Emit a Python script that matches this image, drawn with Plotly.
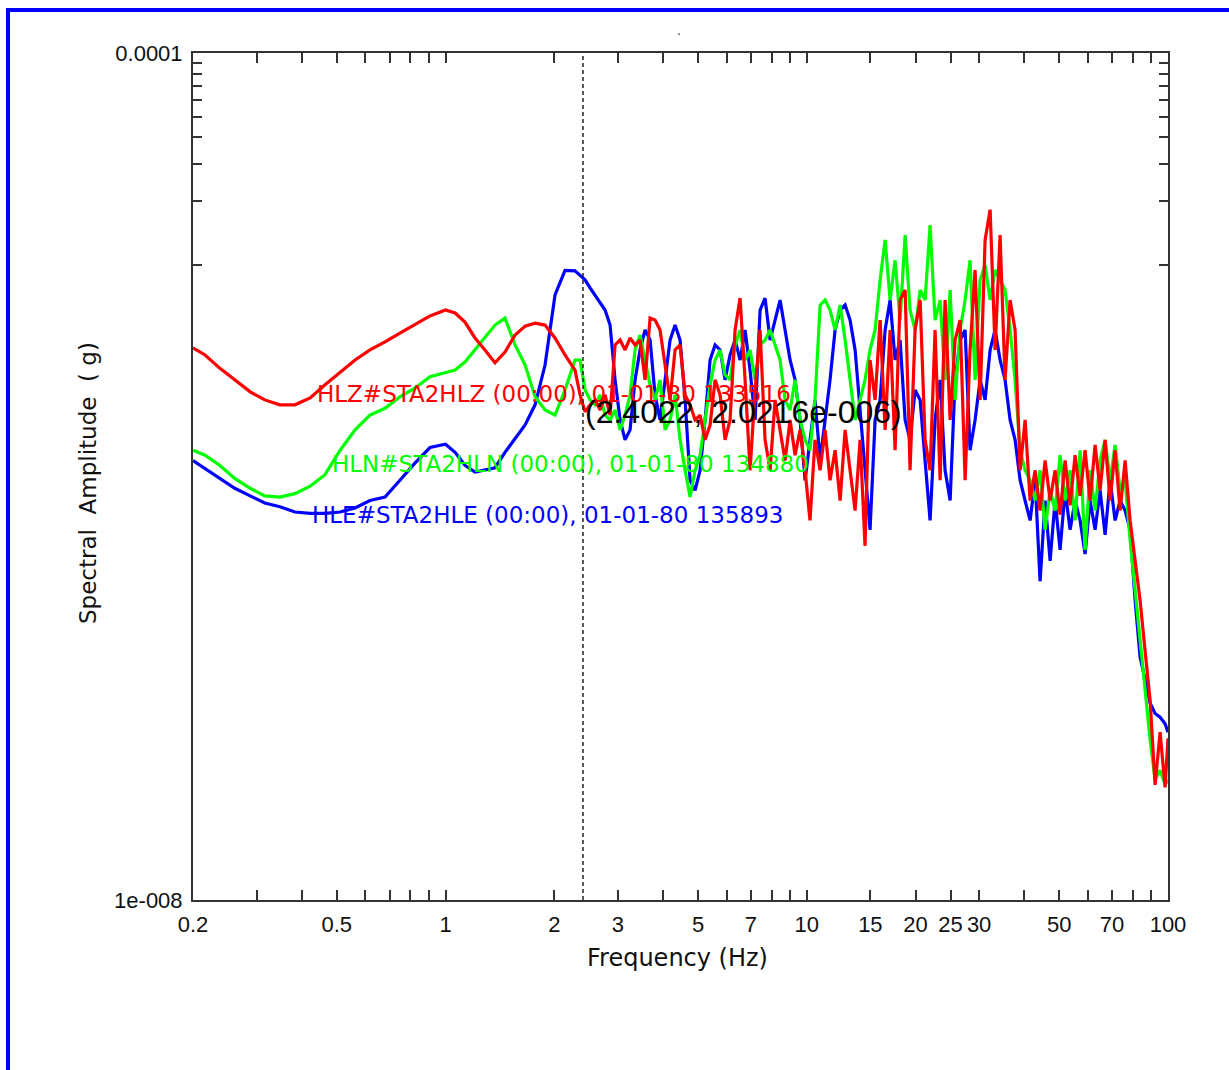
import math
import plotly.graph_objects as go

# Frequency grid (Hz)
freq_hz = [
    0.200, 0.216, 0.237, 0.261, 0.288, 0.316, 0.348, 0.383, 0.422, 0.464,
    0.511, 0.562, 0.618, 0.680, 0.748, 0.824, 0.906, 1.000, 1.063, 1.132,
    1.207, 1.286, 1.371, 1.461, 1.558, 1.661, 1.770, 1.886, 2.010, 2.142,
    2.283,
    2.358, 2.434, 2.513, 2.595, 2.679, 2.765, 2.855, 2.947, 3.043, 3.141,
    3.243, 3.348, 3.456, 3.568, 3.684, 3.803, 3.926, 4.053, 4.185, 4.320,
    4.460, 4.605, 4.754, 4.908, 5.067, 5.231, 5.400, 5.575, 5.756, 5.942,
    6.134, 6.333, 6.538, 6.750, 6.968, 7.194, 7.427, 7.667, 7.916, 8.172,
    8.437, 8.710, 8.992, 9.283, 9.583, 9.894, 10.21, 10.54, 10.89, 11.24,
    11.60, 11.98, 12.37, 12.77, 13.18, 13.61, 14.05, 14.50, 14.97, 15.46,
    15.96, 16.48, 17.01, 17.56, 18.13, 18.72, 19.32, 19.95, 20.60, 21.26,
    21.95, 22.66, 23.40, 24.15, 24.94, 25.74, 26.58, 27.44, 28.32, 29.24,
    30.19, 31.17, 32.18, 33.22, 34.29, 35.40, 36.55, 37.73, 38.96, 40.22,
    41.52, 42.87, 44.25, 45.69, 47.17, 48.69, 50.27, 51.90, 53.58, 55.31,
    57.11, 58.95, 60.86, 62.84, 64.87, 66.97, 69.14, 71.38, 73.69, 76.08,
    78.54, 81.08, 83.71, 86.42, 89.22, 92.11, 95.09, 98.17,
    100.0,
]

# Spectral amplitudes in micro-g
hle_ug = [
    1.19, 1.09, 0.98, 0.88, 0.81, 0.75, 0.72, 0.68, 0.67, 0.67,
    0.68, 0.71, 0.77, 0.80, 0.96, 1.16, 1.37, 1.42, 1.30, 1.13,
    1.05, 1.07, 1.10, 1.30, 1.52, 1.75, 2.18, 3.36, 7.20, 9.40,
    9.35,
    8.95, 8.48, 7.78, 7.20, 6.67, 6.11, 5.19, 2.86, 1.85, 1.49,
    1.66, 2.86, 3.96, 4.92, 4.41, 2.43, 1.85, 2.86, 4.41, 5.19,
    4.41, 2.30, 0.96, 0.86, 1.07, 1.85, 3.55, 4.18, 3.96, 2.86,
    3.75, 4.41, 3.55, 4.92, 3.18, 1.85, 6.11, 6.96, 4.41, 5.48,
    6.81, 4.92, 3.55, 2.86, 1.85, 0.96, 1.49, 2.30, 1.19, 1.85,
    2.86, 4.92, 6.11, 6.45, 5.48, 3.96, 2.06, 1.07, 0.56, 1.85,
    2.30, 4.92, 6.81, 3.55, 4.41, 1.85, 1.49, 2.56, 2.30, 1.19,
    0.62, 1.85, 2.86, 1.07, 0.77, 2.86, 4.41, 4.92, 1.33, 1.85,
    2.86, 2.30, 3.96, 4.92, 3.55, 2.86, 1.85, 1.49, 0.96, 0.77,
    0.62, 0.96, 0.32, 0.77, 0.40, 0.77, 0.45, 0.86, 0.56, 0.77,
    0.62, 0.43, 0.77, 0.56, 0.86, 0.53, 0.96, 0.62, 0.77, 0.69,
    0.56, 0.26, 0.14, 0.11, 0.085, 0.076, 0.073, 0.068,
    0.062,
]

hln_ug = [
    1.33, 1.26, 1.13, 0.98, 0.88, 0.81, 0.80, 0.83, 0.90, 1.02,
    1.33, 1.66, 1.95, 2.10, 2.38, 2.62, 2.96, 3.11, 3.18, 3.47,
    3.96, 4.51, 5.19, 5.60, 4.18, 3.36, 2.38, 2.06, 1.95, 2.56,
    3.55,
    3.55, 2.56, 2.30, 2.18, 2.43, 1.95, 1.85, 2.06, 1.66, 1.95,
    2.43, 3.96, 4.66, 3.55, 2.71, 2.30, 2.86, 1.66, 1.85, 2.43,
    1.49, 1.07, 0.80, 1.07, 1.26, 1.85, 2.71, 3.55, 3.96, 3.02,
    2.86, 4.18, 4.92, 3.55, 3.96, 2.86, 4.18, 4.41, 4.92, 4.18,
    3.55, 2.30, 2.06, 2.86, 1.85, 1.49, 1.33, 2.30, 6.45, 6.81,
    6.11, 4.92, 6.45, 4.41, 2.86, 1.85, 2.30, 2.86, 3.96, 4.92,
    8.48, 13.1, 6.81, 10.5, 5.48, 13.8, 6.11, 4.92, 7.60, 6.81,
    15.4, 5.48, 6.81, 2.86, 7.60, 2.30, 4.92, 6.81, 10.5, 2.86,
    8.48, 9.97, 6.81, 9.45, 8.48, 7.60, 4.92, 2.86, 1.33, 1.07,
    0.96, 0.77, 1.07, 0.56, 0.86, 0.69, 1.26, 0.77, 1.07, 0.62,
    1.33, 0.45, 1.07, 0.69, 1.19, 1.49, 0.96, 1.41, 0.86, 0.96,
    0.50, 0.29, 0.17, 0.098, 0.057, 0.037, 0.041, 0.035,
    0.037,
]

hlz_ug = [
    4.05, 3.75, 3.25, 2.86, 2.51, 2.30, 2.18, 2.18, 2.35, 2.71,
    3.11, 3.55, 3.96, 4.32, 4.76, 5.25, 5.73, 6.11, 5.92, 5.36,
    4.51, 3.96, 3.44, 3.87, 4.66, 5.13, 5.30, 5.19, 4.51, 3.75,
    3.18,
    2.43, 2.02, 2.18, 2.30, 2.06, 2.43, 1.95, 4.18, 4.41, 3.96,
    4.51, 4.18, 4.41, 2.86, 5.60, 5.48, 4.92, 3.36, 2.30, 3.96,
    4.18, 2.43, 2.18, 1.85, 1.95, 1.49, 1.75, 2.86, 2.43, 1.49,
    1.85, 4.92, 6.96, 2.86, 1.07, 2.56, 4.92, 1.49, 1.07, 2.30,
    1.66, 1.19, 1.85, 1.26, 1.66, 1.07, 0.62, 1.49, 1.07, 1.66,
    0.96, 1.33, 0.77, 1.66, 1.07, 0.69, 1.49, 0.47, 3.55, 2.30,
    5.48, 1.66, 4.92, 1.33, 6.81, 7.60, 1.07, 4.92, 6.81, 1.49,
    1.07, 4.92, 0.96, 6.81, 1.85, 4.41, 5.48, 0.96, 3.96, 9.45,
    2.30, 13.1, 18.2, 3.96, 13.8, 2.86, 6.81, 4.92, 1.07, 1.85,
    0.77, 1.07, 0.69, 1.19, 0.77, 1.07, 0.66, 1.19, 0.73, 1.26,
    0.81, 1.33, 0.77, 1.41, 0.86, 1.49, 0.77, 1.33, 0.69, 1.19,
    0.62, 0.40, 0.26, 0.15, 0.088, 0.035, 0.062, 0.034,
    0.058,
]

assert len(freq_hz) == len(hle_ug) == len(hln_ug) == len(hlz_ug)

series_names = ["HLE#STA2HLE (00:00), 01-01-80 135893",
                "HLN#STA2HLN (00:00), 01-01-80 134880",
                "HLZ#STA2HLZ (00:00), 01-01-80 133516"]
series_colors = ["#0000FF", "#00FF00", "#FF0000"]

cursor_freq = 2.4022
cursor_amp = 2.0216e-6
cursor_label = "(2.4022, 2.0216e-006)"

x_tick_vals = [0.2, 0.3, 0.4, 0.5, 0.6, 0.7, 0.8, 0.9, 1, 2, 3, 4, 5, 6, 7, 8, 9,
               10, 15, 20, 25, 30, 40, 50, 60, 70, 80, 90, 100]
x_tick_text = ["0.2", "", "", "0.5", "", "", "", "", "1", "2", "3", "", "5", "", "7", "", "",
               "10", "15", "20", "25", "30", "", "50", "", "70", "", "", "100"]
y_tick_vals = [1e-8, 1e-5, 2e-5, 3e-5, 4e-5, 5e-5, 6e-5, 7e-5, 8e-5, 9e-5, 1e-4]
y_tick_text = ["1e-008", "", "", "", "", "", "", "", "", "", "0.0001"]

FONT = "Liberation Sans, Arial, Helvetica, sans-serif"
WIDE = "DejaVu Sans, Verdana, sans-serif"

fig = go.Figure()
for name, vals, col in zip(series_names, [hle_ug, hln_ug, hlz_ug], series_colors):
    fig.add_trace(go.Scatter(
        x=freq_hz, y=[v * 1e-6 for v in vals], mode="lines", name=name,
        line=dict(color=col, width=3.2), showlegend=False))

# cursor dashed line
fig.add_trace(go.Scatter(
    x=[cursor_freq, cursor_freq], y=[1e-8, 1e-4], mode="lines",
    line=dict(color="#222222", width=1.5, dash="4px,3px"), showlegend=False))

L, R, T, B = 193, 61, 53, 170
W, H = 1229, 1070
pw, ph = W - L - R, H - T - B


def px(xp):
    return (xp - L) / pw


def py(yp):
    return (H - B - yp) / ph


annotations = [
    dict(text=series_names[2], x=px(315), y=py(394), xref="paper", yref="paper",
         xanchor="left", yanchor="middle", showarrow=False,
         font=dict(family=WIDE, size=23, color="#FF0000")),
    dict(text=series_names[1], x=px(330), y=py(464), xref="paper", yref="paper",
         xanchor="left", yanchor="middle", showarrow=False,
         font=dict(family=WIDE, size=23, color="#00FF00")),
    dict(text=series_names[0], x=px(310), y=py(515), xref="paper", yref="paper",
         xanchor="left", yanchor="middle", showarrow=False,
         font=dict(family=WIDE, size=23, color="#0000FF")),
    dict(text=cursor_label, x=math.log10(cursor_freq), y=math.log10(cursor_amp),
         xref="x", yref="y", xanchor="left", yanchor="middle", showarrow=False,
         font=dict(family=FONT, size=32, color="#000000")),
    dict(text="Frequency (Hz)", x=px(677), y=py(958), xref="paper", yref="paper",
         xanchor="center", yanchor="middle", showarrow=False,
         font=dict(family=WIDE, size=24, color="#111111")),
    dict(text="Spectral  Amplitude  ( g)", x=px(88), y=py(483), xref="paper", yref="paper",
         xanchor="center", yanchor="middle", showarrow=False, textangle=-90,
         font=dict(family=WIDE, size=23, color="#111111")),
    dict(text=".", x=px(679), y=py(30), xref="paper", yref="paper",
         xanchor="center", yanchor="middle", showarrow=False,
         font=dict(family=FONT, size=14, color="#333333")),
]

shapes = [
    dict(type="rect", xref="paper", yref="paper", x0=px(6), x1=px(1240),
         y0=py(12), y1=py(8), fillcolor="#0000FF", line=dict(width=0), layer="above"),
    dict(type="rect", xref="paper", yref="paper", x0=px(6), x1=px(10),
         y0=py(1080), y1=py(8), fillcolor="#0000FF", line=dict(width=0), layer="above"),
]

axis_common = dict(showgrid=False, zeroline=False, showline=True, linecolor="#333333",
                   linewidth=2, mirror="ticks", ticks="inside", tickcolor="#333333",
                   tickwidth=2, tickfont=dict(family=FONT, size=22, color="#111111"))

fig.update_layout(
    width=W, height=H, margin=dict(l=L, r=R, t=T, b=B),
    paper_bgcolor="white", plot_bgcolor="white",
    xaxis=dict(type="log", range=[math.log10(0.2), math.log10(100)],
               tickmode="array", tickvals=x_tick_vals, ticktext=x_tick_text,
               ticklen=10, ticklabelstandoff=4, **axis_common),
    yaxis=dict(type="log", range=[-8, -4], tickmode="array",
               tickvals=y_tick_vals, ticktext=y_tick_text, ticklen=9,
               ticklabelstandoff=4, **axis_common),
    annotations=annotations, shapes=shapes,
)

fig.write_html("out.html", config={"displayModeBar": False})
